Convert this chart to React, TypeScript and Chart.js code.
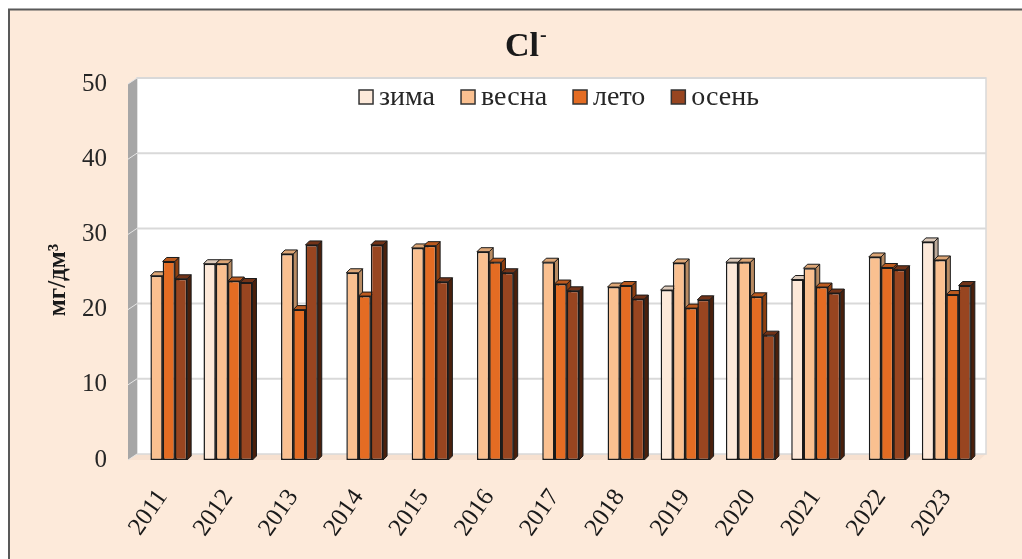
import React, { useEffect, useRef } from "react";
import { Chart, registerables } from "chart.js";

Chart.register(...registerables);

const years = ["2011", "2012", "2013", "2014", "2015", "2016", "2017", "2018", "2019", "2020", "2021", "2022", "2023"];
const seriesNames = ["зима", "весна", "лето", "осень"];
const winter = [null, 26.1, null, null, null, null, null, null, 22.6, 26.3, 24.0, null, 29.0];
const spring = [24.5, 26.1, 27.4, 24.9, 28.2, 27.7, 26.3, 23.0, 26.2, 26.3, 25.5, 27.0, 26.6];
const summer = [26.4, 23.8, 20.0, 21.8, 28.5, 26.3, 23.4, 23.2, 20.2, 21.7, 23.0, 25.6, 22.0];
const autumn = [24.1, 23.6, 28.6, 28.6, 23.7, 24.9, 22.5, 21.4, 21.3, 16.6, 22.2, 25.3, 23.2];
const yTicks = [0, 10, 20, 30, 40, 50];
const titleText = "Cl";
const titleSup = "-";
const yTitle = "мг/дм³";

const W = 1022;
const H = 559;
const FONT = "'Liberation Serif', 'Times New Roman', serif";
const fronts = ["#FDE9D9", "#FAC090", "#E46C23", "#984520"];
const tops = ["#DCC9B9", "#DDA676", "#BC5A1E", "#723318"];
const sides = ["#BDAA9A", "#B98B62", "#8E3F10", "#4A200C"];
const DX = 4, DY = 4;
const WX = 7, WY = 6;

const scenePlugin = {
  id: "scene3d",
  beforeDraw(chart: any) {
    const { ctx, chartArea: a } = chart;
    const ys = chart.scales.y;
    ctx.save();
    ctx.fillStyle = "#ffffff";
    ctx.fillRect(0, 0, W, H);
    ctx.fillStyle = "#FDEADA";
    ctx.fillRect(9, 10, W, H);
    ctx.strokeStyle = "#595959";
    ctx.lineWidth = 2;
    ctx.beginPath();
    ctx.moveTo(9, H + 5);
    ctx.lineTo(9, 9.5);
    ctx.lineTo(W + 5, 9.5);
    ctx.stroke();

    // floor
    ctx.fillStyle = "#F7E1D0";
    ctx.beginPath();
    ctx.moveTo(a.left - 2, a.bottom);
    ctx.lineTo(a.left + WX, a.bottom - WY);
    ctx.lineTo(a.right + WX, a.bottom - WY);
    ctx.lineTo(a.right, a.bottom);
    ctx.closePath();
    ctx.fill();

    // back wall
    ctx.fillStyle = "#ffffff";
    ctx.fillRect(a.left + WX, a.top - WY, a.right - a.left, a.bottom - a.top);
    ctx.strokeStyle = "#D9D9D9";
    ctx.lineWidth = 1.5;
    ctx.strokeRect(a.left + WX, a.top - WY, a.right - a.left, a.bottom - a.top);

    // left wall
    ctx.fillStyle = "#A6A6A6";
    ctx.beginPath();
    ctx.moveTo(a.left - 2, a.top);
    ctx.lineTo(a.left + WX, a.top - WY);
    ctx.lineTo(a.left + WX, a.bottom - WY);
    ctx.lineTo(a.left - 2, a.bottom);
    ctx.closePath();
    ctx.fill();

    // gridlines
    ctx.strokeStyle = "#D9D9D9";
    ctx.lineWidth = 2;
    yTicks.forEach((v) => {
      if (v === 0) return;
      const py = ys.getPixelForValue(v);
      ctx.beginPath();
      ctx.moveTo(a.left + WX, py - WY);
      ctx.lineTo(a.right + WX, py - WY);
      ctx.stroke();
    });
    ctx.strokeStyle = "#E6E6E6";
    ctx.lineWidth = 1;
    yTicks.forEach((v) => {
      const py = ys.getPixelForValue(v);
      ctx.beginPath();
      ctx.moveTo(a.left - 2, py);
      ctx.lineTo(a.left + WX, py - WY);
      ctx.stroke();
    });
    ctx.restore();
  },
  beforeDatasetsDraw(chart: any) {
    const { ctx } = chart;
    ctx.save();
    ctx.strokeStyle = "#1a1a1a";
    ctx.lineWidth = 1;
    ctx.lineJoin = "round";
    const n = chart.data.labels.length;
    for (let i = 0; i < n; i++) {
      chart.data.datasets.forEach((ds: any, d: number) => {
        const v = ds.data[i];
        if (v === null || v === undefined) return;
        const el = chart.getDatasetMeta(d).data[i];
        const l = el.x - el.width / 2;
        const r = el.x + el.width / 2;
        const t = el.y;
        const b = el.base;
        ctx.fillStyle = sides[d];
        ctx.beginPath();
        ctx.moveTo(r, t);
        ctx.lineTo(r + DX, t - DY);
        ctx.lineTo(r + DX, b - DY);
        ctx.lineTo(r, b);
        ctx.closePath();
        ctx.fill();
        ctx.stroke();
        ctx.fillStyle = tops[d];
        ctx.beginPath();
        ctx.moveTo(l, t);
        ctx.lineTo(l + DX, t - DY);
        ctx.lineTo(r + DX, t - DY);
        ctx.lineTo(r, t);
        ctx.closePath();
        ctx.fill();
        ctx.stroke();
      });
    }
    ctx.restore();
  },
  afterDraw(chart: any) {
    const { ctx } = chart;
    ctx.save();
    // title
    ctx.fillStyle = "#1a1a1a";
    ctx.font = `bold 34px ${FONT}`;
    ctx.textBaseline = "alphabetic";
    ctx.textAlign = "left";
    const tw = ctx.measureText(titleText).width;
    const sx = 526 - (tw + 8) / 2;
    ctx.fillText(titleText, sx, 56);
    ctx.font = `bold 20px ${FONT}`;
    ctx.fillText(titleSup, sx + tw + 1, 41);

    // y title
    ctx.save();
    ctx.translate(59, 280);
    ctx.rotate(-Math.PI / 2);
    ctx.font = `bold 25px ${FONT}`;
    ctx.textAlign = "center";
    ctx.textBaseline = "middle";
    ctx.fillText(yTitle, 0, 0);
    ctx.restore();

    // legend
    ctx.font = `28px ${FONT}`;
    ctx.textBaseline = "middle";
    const box = 14, gap = 6, spacing = 26;
    const widths = seriesNames.map((s) => ctx.measureText(s).width);
    const total = widths.reduce((acc, w) => acc + box + gap + w, 0) + spacing * (seriesNames.length - 1);
    let x = 559 - total / 2;
    const cy = 97;
    seriesNames.forEach((s, i) => {
      ctx.fillStyle = fronts[i];
      ctx.fillRect(x, cy - box / 2, box, box);
      ctx.strokeStyle = "#333333";
      ctx.lineWidth = 1.5;
      ctx.strokeRect(x, cy - box / 2, box, box);
      ctx.fillStyle = "#262626";
      ctx.fillText(s, x + box + gap, cy + 1);
      x += box + gap + widths[i] + spacing;
    });
    ctx.restore();
  },
};

export default function App() {
  const ref = useRef<HTMLCanvasElement>(null);
  useEffect(() => {
    let chart: Chart | null = null;
    let cancelled = false;
    const build = () => {
      if (cancelled || !ref.current) return;
      const series = [winter, spring, summer, autumn];
      chart = new Chart(ref.current as HTMLCanvasElement, {
        type: "bar",
        data: {
          labels: years,
          datasets: series.map((data, i) => ({
            label: seriesNames[i],
            data,
            backgroundColor: fronts[i],
            borderColor: "#1a1a1a",
            borderWidth: 1.5,
            borderSkipped: false,
            categoryPercentage: 0.75,
            barPercentage: 1,
          })),
        },
        options: {
          responsive: false,
          animation: false,
          layout: { padding: { left: 0, top: 84, right: 43, bottom: 0 } },
          plugins: {
            legend: { display: false },
            title: { display: false },
            tooltip: { enabled: false },
          },
          scales: {
            x: {
              grid: { display: false, drawTicks: false },
              border: { display: false },
              ticks: {
                minRotation: 55,
                maxRotation: 55,
                padding: 24,
                color: "#1a1a1a",
                font: { family: FONT, size: 25 },
              },
              afterFit: (s: any) => {
                s.height = 99;
              },
            },
            y: {
              min: 0,
              max: 50,
              grid: { display: false, drawTicks: false },
              border: { display: false },
              ticks: {
                stepSize: 10,
                padding: 23,
                color: "#262626",
                font: { family: FONT, size: 25 },
              },
              afterFit: (s: any) => {
                s.width = 130;
              },
            },
          },
        },
        plugins: [scenePlugin],
      });
    };
    const fonts: any = (document as any).fonts;
    if (fonts && fonts.load) {
      Promise.all([
        fonts.load("25px 'Liberation Serif'", "0123 зима"),
        fonts.load("bold 25px 'Liberation Serif'", "Cl мг/дм³"),
      ])
        .catch(() => null)
        .then(build);
    } else {
      build();
    }
    return () => {
      cancelled = true;
      if (chart) chart.destroy();
    };
  }, []);
  return (
    <canvas
      ref={ref}
      width={W}
      height={H}
      style={{ position: "fixed", left: 0, top: 0, width: W, height: H, display: "block" }}
    />
  );
}
